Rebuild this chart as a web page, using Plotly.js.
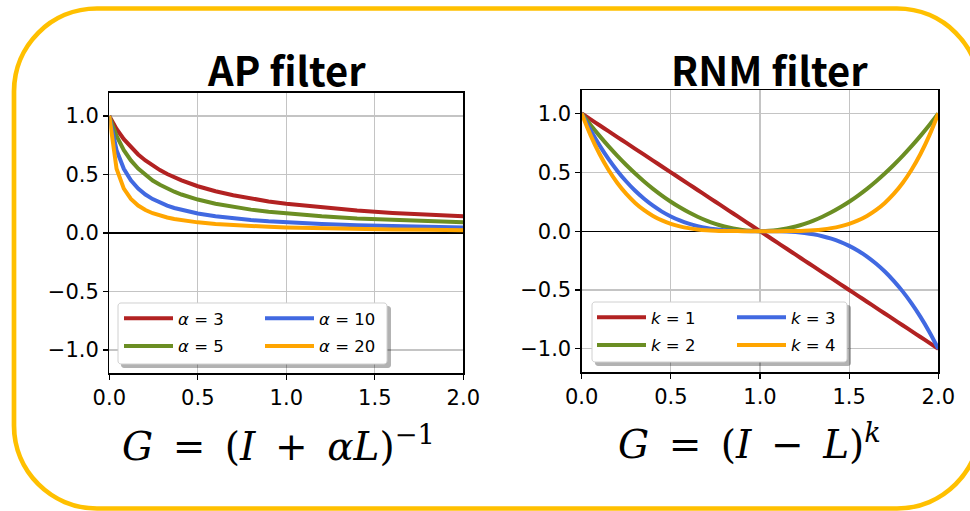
<!DOCTYPE html>
<html><head><meta charset="utf-8">
<script src="https://cdn.plot.ly/plotly-3.0.1.min.js"></script>
<style>html,body{margin:0;padding:0;background:#fff;} #chart{width:970px;height:511px;}</style>
</head><body><div id="chart"></div>
<script>
// ---------- data ----------
const xAP = [0, 0.041, 0.082, 0.122, 0.163, 0.204, 0.245, 0.286, 0.327, 0.367, 0.408, 0.5, 0.6, 0.7, 0.8, 0.9, 1.0, 1.2, 1.4, 1.6, 1.8, 2.0];
const apAlpha3  = [1, 0.890, 0.803, 0.732, 0.672, 0.620, 0.576, 0.538, 0.505, 0.476, 0.450, 0.400, 0.357, 0.323, 0.294, 0.270, 0.250, 0.217, 0.192, 0.172, 0.156, 0.143];
const apAlpha5  = [1, 0.830, 0.709, 0.621, 0.551, 0.495, 0.449, 0.412, 0.380, 0.353, 0.329, 0.286, 0.250, 0.222, 0.200, 0.182, 0.167, 0.143, 0.125, 0.111, 0.100, 0.091];
const apAlpha10 = [1, 0.709, 0.549, 0.450, 0.380, 0.329, 0.290, 0.259, 0.234, 0.214, 0.197, 0.167, 0.143, 0.125, 0.111, 0.100, 0.091, 0.077, 0.067, 0.059, 0.053, 0.048];
const apAlpha20 = [1, 0.549, 0.379, 0.291, 0.235, 0.197, 0.169, 0.149, 0.133, 0.120, 0.109, 0.091, 0.077, 0.067, 0.059, 0.053, 0.048, 0.040, 0.034, 0.030, 0.027, 0.024];

const xRNM = [0,0.05,0.1,0.15,0.2,0.25,0.3,0.35,0.4,0.45,0.5,0.55,0.6,0.65,0.7,0.75,0.8,0.85,0.9,0.95,1,1.05,1.1,1.15,1.2,1.25,1.3,1.35,1.4,1.45,1.5,1.55,1.6,1.65,1.7,1.75,1.8,1.85,1.9,1.95,2];
const rnmK1 = [1,0.95,0.9,0.85,0.8,0.75,0.7,0.65,0.6,0.55,0.5,0.45,0.4,0.35,0.3,0.25,0.2,0.15,0.1,0.05,0,-0.05,-0.1,-0.15,-0.2,-0.25,-0.3,-0.35,-0.4,-0.45,-0.5,-0.55,-0.6,-0.65,-0.7,-0.75,-0.8,-0.85,-0.9,-0.95,-1];
const rnmK2 = [1,0.9025,0.81,0.7225,0.64,0.5625,0.49,0.4225,0.36,0.3025,0.25,0.2025,0.16,0.1225,0.09,0.0625,0.04,0.0225,0.01,0.0025,0,0.0025,0.01,0.0225,0.04,0.0625,0.09,0.1225,0.16,0.2025,0.25,0.3025,0.36,0.4225,0.49,0.5625,0.64,0.7225,0.81,0.9025,1];
const rnmK3 = [1,0.857,0.729,0.614,0.512,0.422,0.343,0.275,0.216,0.166,0.125,0.091,0.064,0.043,0.027,0.016,0.008,0.003,0.001,0.0001,0,-0.0001,-0.001,-0.003,-0.008,-0.016,-0.027,-0.043,-0.064,-0.091,-0.125,-0.166,-0.216,-0.275,-0.343,-0.422,-0.512,-0.614,-0.729,-0.857,-1];
const rnmK4 = [1,0.8145,0.6561,0.522,0.4096,0.3164,0.2401,0.1785,0.1296,0.0915,0.0625,0.041,0.0256,0.015,0.0081,0.0039,0.0016,0.0005,0.0001,0,0,0,0.0001,0.0005,0.0016,0.0039,0.0081,0.015,0.0256,0.041,0.0625,0.0915,0.1296,0.1785,0.2401,0.3164,0.4096,0.522,0.6561,0.8145,1];

const apLabels  = ['<i>α</i> = 3', '<i>α</i> = 5', '<i>α</i> = 10', '<i>α</i> = 20'];
const rnmLabels = ['<i>k</i> = 1', '<i>k</i> = 2', '<i>k</i> = 3', '<i>k</i> = 4'];
const lineColors = ['#B22222', '#6B8E23', '#4169E1', '#FFA500'];

const xTickVals = [0, 0.5, 1, 1.5, 2];
const xTickText = ['0.0', '0.5', '1.0', '1.5', '2.0'];
const yTickVals = [-1, -0.5, 0, 0.5, 1];
const yTickText = ['\u22121.0', '\u22120.5', '0.0', '0.5', '1.0'];

const titleLeft  = 'AP filter';
const titleRight = 'RNM filter';
const formulaLeft  = '<i>G</i>\u2002=\u2002(<i>I</i>\u2002+\u2002<i>αL</i>)<sup>\u22121</sup>';
const formulaRight = '<i>G</i>\u2002=\u2002(<i>I</i>\u2002\u2212\u2002<i>L</i>)<sup><i>k</i></sup>';

// ---------- layout helpers (pixel -> paper) ----------
const W = 970, H = 511;
const PX = p => p / W;
const PY = p => 1 - p / H;

function rrPath(x0, y0, x1, y1, r) {
  const k = 0.5523 * r;
  const P = (x, y) => PX(x).toFixed(5) + ',' + PY(y).toFixed(5);
  return 'M' + P(x0 + r, y0) +
    ' L' + P(x1 - r, y0) +
    ' C' + P(x1 - r + k, y0) + ' ' + P(x1, y0 + r - k) + ' ' + P(x1, y0 + r) +
    ' L' + P(x1, y1 - r) +
    ' C' + P(x1, y1 - r + k) + ' ' + P(x1 - r + k, y1) + ' ' + P(x1 - r, y1) +
    ' L' + P(x0 + r, y1) +
    ' C' + P(x0 + r - k, y1) + ' ' + P(x0, y1 - r + k) + ' ' + P(x0, y1 - r) +
    ' L' + P(x0, y0 + r) +
    ' C' + P(x0, y0 + r - k) + ' ' + P(x0 + r - k, y0) + ' ' + P(x0 + r, y0) + ' Z';
}

function traceSet(x, ys, labels, xa, ya, legends, shape) {
  return ys.map((y, i) => ({
    type: 'scatter', mode: 'lines', x: x, y: y,
    name: labels[i], xaxis: xa, yaxis: ya,
    line: {color: lineColors[i], width: 4, shape: shape},
    legend: legends[Math.floor(i / 2)],
    legendgroup: xa + '_' + i,
    hoverinfo: 'skip'
  }));
}

const data = [].concat(
  traceSet(xAP, [apAlpha3, apAlpha5, apAlpha10, apAlpha20], apLabels, 'x', 'y', ['legend', 'legend2'], 'linear'),
  traceSet(xRNM, [rnmK1, rnmK2, rnmK3, rnmK4], rnmLabels, 'x2', 'y2', ['legend3', 'legend4'], 'spline')
);

const tickFont = {family: 'DejaVu Sans', size: 21, color: '#000'};
function xAxis(d0, d1, anchor) {
  return {domain: [PX(d0), PX(d1)], anchor: anchor, range: [0, 2],
    tickmode: 'array', tickvals: xTickVals, ticktext: xTickText,
    showgrid: true, gridcolor: '#c4c4c4', gridwidth: 1.2, zeroline: false,
    showline: true, linecolor: '#000', linewidth: 1.3, mirror: true,
    ticks: 'outside', ticklen: 5, tickwidth: 1.3, tickcolor: '#000',
    tickfont: tickFont, fixedrange: true};
}
function yAxis(d0, d1, anchor) {
  return {domain: [PY(d1), PY(d0)], anchor: anchor, range: [-1.2, 1.2],
    tickmode: 'array', tickvals: yTickVals, ticktext: yTickText,
    showgrid: true, gridcolor: '#c4c4c4', gridwidth: 1.2,
    zeroline: true, zerolinecolor: '#000', zerolinewidth: 1.2,
    showline: true, linecolor: '#000', linewidth: 1.3, mirror: true,
    ticks: 'outside', ticklen: 5, tickwidth: 1.3, tickcolor: '#000',
    tickfont: tickFont, fixedrange: true};
}

const legFont = {family: 'DejaVu Sans', size: 16.5, color: '#000'};
function leg(leftPx, topPx) {
  return {x: PX(leftPx), y: PY(topPx), xanchor: 'left', yanchor: 'top',
    orientation: 'v', traceorder: 'grouped', tracegroupgap: 3.3,
    bgcolor: 'rgba(0,0,0,0)', borderwidth: 0, font: legFont, itemwidth: 49};
}

const shapes = [
  // outer rounded yellow frame
  {type: 'path', xref: 'paper', yref: 'paper', layer: 'above',
   path: rrPath(14, 8.5, 980, 508.5, 83), line: {color: '#FFC000', width: 4.7}},
  // legend shadows + boxes
  {type: 'path', xref: 'paper', yref: 'paper', layer: 'above',
   path: rrPath(121, 306, 391, 368, 3), fillcolor: 'rgba(0,0,0,0.3)', line: {width: 0}},
  {type: 'path', xref: 'paper', yref: 'paper', layer: 'above',
   path: rrPath(118, 303, 387, 364, 3), fillcolor: '#ffffff', line: {color: '#d0d0d0', width: 1}},
  {type: 'path', xref: 'paper', yref: 'paper', layer: 'above',
   path: rrPath(595, 305, 851, 366, 3), fillcolor: 'rgba(0,0,0,0.3)', line: {width: 0}},
  {type: 'path', xref: 'paper', yref: 'paper', layer: 'above',
   path: rrPath(592, 302, 847, 362, 3), fillcolor: '#ffffff', line: {color: '#d0d0d0', width: 1}}
];

const annotations = [
  {text: titleLeft, xref: 'paper', yref: 'paper', x: PX(286), y: PY(69), xanchor: 'center', yanchor: 'middle',
   showarrow: false, font: {family: 'Noto Sans CJK SC', size: 40, color: '#000', weight: 700}},
  {text: titleRight, xref: 'paper', yref: 'paper', x: PX(769), y: PY(69), xanchor: 'center', yanchor: 'middle',
   showarrow: false, font: {family: 'Noto Sans CJK SC', size: 40, color: '#000', weight: 700}},
  {text: formulaLeft, xref: 'paper', yref: 'paper', x: PX(278), y: PY(444), xanchor: 'center', yanchor: 'middle',
   showarrow: false, font: {family: 'DejaVu Serif', size: 39, color: '#000'}},
  {text: formulaRight, xref: 'paper', yref: 'paper', x: PX(749), y: PY(442), xanchor: 'center', yanchor: 'middle',
   showarrow: false, font: {family: 'DejaVu Serif', size: 39, color: '#000'}}
];

const layout = {
  width: W, height: H, margin: {l: 0, r: 0, t: 0, b: 0},
  paper_bgcolor: '#ffffff', plot_bgcolor: '#ffffff',
  showlegend: true,
  xaxis: xAxis(109.3, 463.3, 'y'),
  yaxis: yAxis(92.7, 373.3, 'x'),
  xaxis2: xAxis(581.7, 938.3, 'y2'),
  yaxis2: yAxis(90, 372.3, 'x2'),
  legend: leg(119, 301),
  legend2: leg(260, 301),
  legend3: leg(592, 300),
  legend4: leg(732, 300),
  shapes: shapes,
  annotations: annotations
};

Plotly.newPlot('chart', data, layout, {displayModeBar: false, staticPlot: true});
</script>
</body></html>
